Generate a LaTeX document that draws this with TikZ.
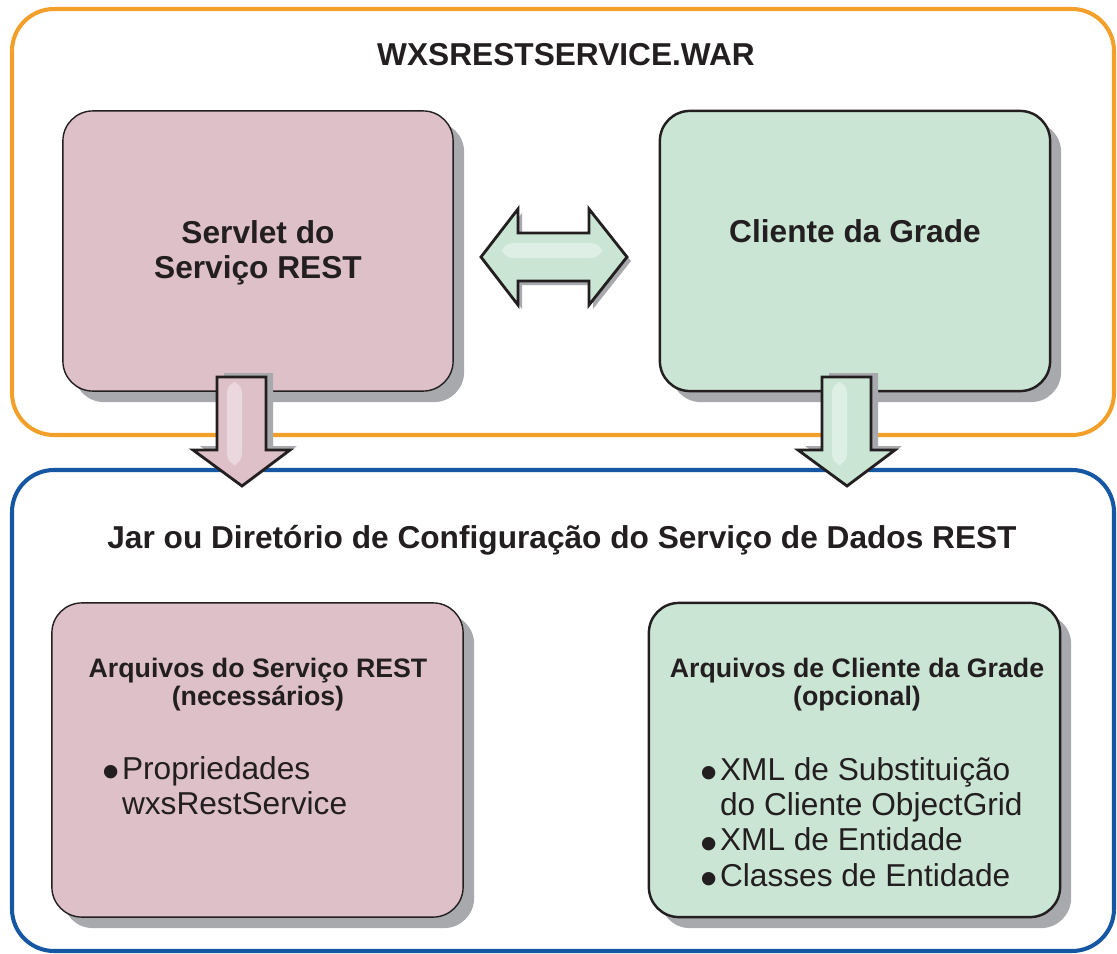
\documentclass[tikz,border=0pt]{standalone}
\usepackage{fontspec}
\setmainfont{Liberation Sans}
\usepackage{xcolor}
\definecolor{warorange}{RGB}{243,160,42}
\definecolor{jarblue}{RGB}{22,87,163}
\definecolor{restpink}{RGB}{222,192,201}
\definecolor{restpinklight}{RGB}{235,216,223}
\definecolor{gridgreen}{RGB}{203,229,213}
\definecolor{gridgreenlight}{RGB}{222,239,229}
\definecolor{shadowgray}{RGB}{167,169,172}
\definecolor{textdark}{RGB}{35,31,32}
\usepackage{tikz}
\usetikzlibrary{shadows}

% list bullet
\newcommand{\listdot}{\makebox[5.5pt][l]{\smash{\raisebox{-2.7pt}{\fontsize{14}{10}\selectfont •}}}}

% down block arrow: tip x, fill, highlight
\newcommand{\blockdown}[3]{%
  \draw[blockarrow, fill=#2, drop shadow={shadow xshift=0.07cm, shadow yshift=0.04cm, fill=shadowgray, opacity=1}]
    (#1-25,377) -- (#1+24,377) -- (#1+24,450) -- (#1+48,450) -- (#1,486)
    -- (#1-49,450) -- (#1-25,450) -- cycle;
  \fill[#3, rounded corners=3] (#1-15,382) rectangle (#1,465);
}

\begin{document}
\begin{tikzpicture}[
  x=0.01cm, y=-0.01cm,
  container/.style={line width=1.15pt, rounded corners=0.42cm},
  cbox/.style={rounded corners=0.3cm, draw=textdark,
    drop shadow={shadow xshift=0.11cm, shadow yshift=-0.11cm, fill=shadowgray, opacity=1}},
  pinkbox/.style={cbox, fill=restpink, line width=0.4pt},
  greenbox/.style={cbox, fill=gridgreen, line width=0.7pt},
  bigtext/.style={text=textdark, inner sep=0pt, anchor=base, font=\fontsize{9}{10}\selectfont\bfseries},
  headtext/.style={text=textdark, inner sep=0pt, anchor=base, font=\fontsize{7.6}{8}\selectfont\bfseries},
  listtext/.style={text=textdark, inner sep=0pt, anchor=base west, font=\fontsize{9}{10.05}\selectfont},
  blockarrow/.style={draw=textdark, line width=0.8pt, line join=miter}
]
  \useasboundingbox (0,0) rectangle (1117,954);
  \fill[white] (0,0) rectangle (1117,954);

  % containers
  \draw[container, draw=warorange] (12,9) rectangle (1114,435);
  \draw[container, draw=jarblue] (12,470) rectangle (1114,951);
  \node[bigtext] (wartitle) at (566,65) {WXSRESTSERVICE.WAR};
  \node[bigtext] (jartitle) at (562,548) {Jar ou Diretório de Configuração do Serviço de Dados REST};

  % top boxes
  \node[pinkbox, minimum width=3.9cm, minimum height=2.8cm] (servlet) at (258,251) {};
  \node[greenbox, minimum width=3.9cm, minimum height=2.8cm] (gridclient) at (855,251) {};
  \node[bigtext] (servlettext) at (258,243) {\begin{tabular}[t]{@{}c@{}}Servlet do\\Serviço REST\end{tabular}};
  \node[bigtext] (gridclienttext) at (855,242) {Cliente da Grade};

  % bottom boxes
  \node[pinkbox, minimum width=4.11cm, minimum height=3.14cm] (restfiles) at (257.5,760) {};
  \node[greenbox, minimum width=4.11cm, minimum height=3.14cm] (gridfiles) at (854.5,760) {};
  \node[headtext] (restfileshead) at (258,677) {\begin{tabular}[t]{@{}c@{}}Arquivos do Serviço REST\\(necessários)\end{tabular}};
  \node[headtext] (gridfileshead) at (857,677) {\begin{tabular}[t]{@{}c@{}}Arquivos de Cliente da Grade\\(opcional)\end{tabular}};
  \node[listtext] (restlist) at (102,779) {\begin{tabular}[t]{@{}l@{}l@{}}\listdot&Propriedades\\&wxsRestService\end{tabular}};
  \node[listtext] (gridlist) at (700,780) {\begin{tabular}[t]{@{}l@{}l@{}}\listdot&XML de Substituição\\&do Cliente ObjectGrid\\\listdot&XML de Entidade\\\listdot&Classes de Entidade\end{tabular}};

  % block arrows
  \draw[blockarrow, fill=gridgreen, drop shadow={shadow xshift=0.04cm, shadow yshift=-0.04cm, fill=shadowgray, opacity=1}]
    (481,257) -- (518,209) -- (518,233) -- (589,233) -- (589,209) -- (627,257)
    -- (589,305) -- (589,281) -- (518,281) -- (518,305) -- cycle;
  \fill[gridgreenlight, rounded corners=3] (502,243) rectangle (602,258);
  \blockdown{242}{restpink}{restpinklight}
  \blockdown{847}{gridgreen}{gridgreenlight}
\end{tikzpicture}
\end{document}
